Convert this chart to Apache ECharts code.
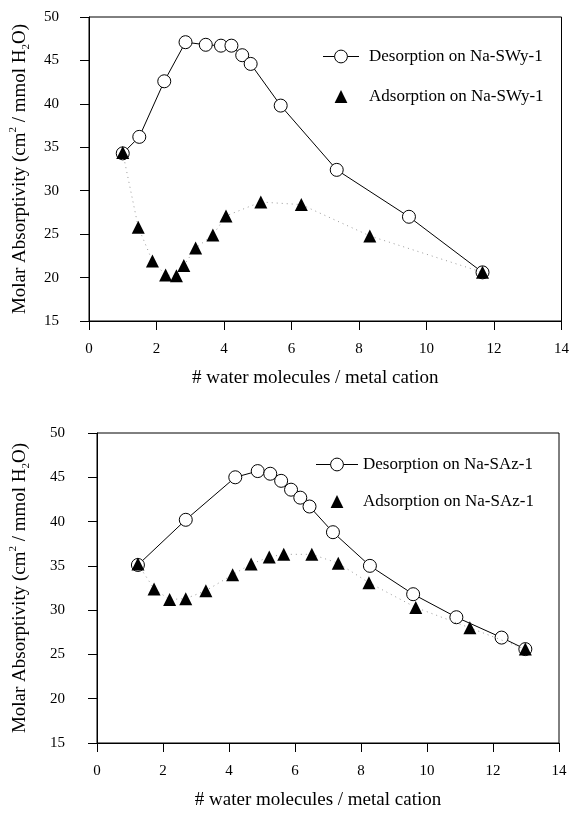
<!DOCTYPE html>
<html lang="en">
<head>
    <meta charset="UTF-8">
    <title>Molar Absorptivity</title>
    <script src="https://cdn.jsdelivr.net/npm/echarts@6/dist/echarts.min.js"></script>
    <style>
        html, body { margin: 0; padding: 0; background: #fff; }
    </style>
</head>
<body>
<div id="chart" style="width: 572px;height: 815px;"></div>
<script type="text/javascript">
    // 上图 Na-SWy-1
    var swyDesX = [1.0, 1.49, 2.23, 2.86, 3.46, 3.91, 4.22, 4.54, 4.79, 5.68, 7.34, 9.48, 11.66]
    var swyDesY = [34.3, 36.2, 42.6, 47.1, 46.8, 46.7, 46.7, 45.6, 44.6, 39.8, 32.4, 27.0, 20.6]
    var swyAdsX = [1.0, 1.46, 1.88, 2.27, 2.59, 2.81, 3.16, 3.67, 4.06, 5.09, 6.29, 8.32, 11.66]
    var swyAdsY = [34.4, 25.8, 21.9, 20.3, 20.2, 21.4, 23.4, 24.9, 27.1, 28.7, 28.4, 24.8, 20.6]

    // 下图 Na-SAz-1
    var sazDesX = [1.24, 2.69, 4.19, 4.87, 5.25, 5.58, 5.88, 6.16, 6.44, 7.15, 8.27, 9.58, 10.89, 12.26, 12.98]
    var sazDesY = [35.1, 40.2, 45.0, 45.7, 45.4, 44.6, 43.6, 42.7, 41.7, 38.8, 35.0, 31.8, 29.2, 26.9, 25.6]
    var sazAdsX = [1.24, 1.73, 2.20, 2.69, 3.30, 4.11, 4.67, 5.22, 5.66, 6.51, 7.31, 8.24, 9.66, 11.30, 12.98]
    var sazAdsY = [35.2, 32.4, 31.2, 31.3, 32.2, 34.0, 35.2, 36.0, 36.3, 36.3, 35.3, 33.1, 30.3, 28.0, 25.6]

    var seriesNames = ['Desorption on Na-SWy-1', 'Adsorption on Na-SWy-1', 'Desorption on Na-SAz-1', 'Adsorption on Na-SAz-1']
    var xTitle = '# water molecules / metal cation'
    var yTitle = 'Molar Absorptivity (cm{sup|2} / mmol H{sub|2}O)'

    var font = 'Liberation Serif'

    function pairs(xs, ys) {
        var out = []
        for (let i = 0; i < xs.length; i++) {
            out.push([xs[i], ys[i]])
        }
        return out
    }

    function xAxisOf(idx, gap) {
        return {
            gridIndex: idx,
            type: 'value',
            min: 0, max: 14, interval: 2,
            name: xTitle,
            nameLocation: 'middle',
            nameGap: gap,
            nameTextStyle: {fontFamily: font, fontSize: 19, color: '#000', padding: [0, 20, 0, 0]},
            axisLine: {show: true, onZero: false, lineStyle: {color: '#000', width: 1}},
            axisTick: {show: true, inside: false, length: 9, lineStyle: {color: '#000'}},
            axisLabel: {fontFamily: font, fontSize: 15, color: '#000', margin: 21},
            splitLine: {show: false}
        }
    }

    function yAxisOf(idx, gap, margin) {
        return {
            gridIndex: idx,
            type: 'value',
            min: 15, max: 50, interval: 5,
            name: yTitle,
            nameLocation: 'middle',
            nameGap: gap,
            nameTextStyle: {
                fontFamily: font, fontSize: 19, color: '#000', lineHeight: 24,
                rich: {
                    sup: {fontFamily: font, fontSize: 11, color: '#000', verticalAlign: 'top'},
                    sub: {fontFamily: font, fontSize: 11, color: '#000', verticalAlign: 'bottom'}
                }
            },
            axisLine: {show: true, onZero: false, lineStyle: {color: '#000', width: 1}},
            axisTick: {show: true, inside: false, length: 9, lineStyle: {color: '#000'}},
            axisLabel: {fontFamily: font, fontSize: 15, color: '#000', margin: margin},
            splitLine: {show: false}
        }
    }

    function desSeries(name, idx, data) {
        return {
            name: name,
            type: 'line',
            xAxisIndex: idx, yAxisIndex: idx,
            data: data,
            symbol: 'circle',
            symbolSize: 13,
            lineStyle: {color: '#000', width: 1},
            itemStyle: {color: '#fff', borderColor: '#000', borderWidth: 1},
            z: 2
        }
    }

    function adsSeries(name, idx, data) {
        return {
            name: name,
            type: 'line',
            xAxisIndex: idx, yAxisIndex: idx,
            data: data,
            symbol: 'triangle',
            symbolSize: 13,
            lineStyle: {color: '#9a9a9a', width: 1, type: [1, 4]},
            itemStyle: {color: '#000', borderColor: '#000', borderWidth: 0},
            z: 3
        }
    }

    var chart = echarts.init(document.getElementById('chart'), null, {renderer: 'canvas'})

    var option = {
        backgroundColor: '#fff',
        animation: false,
        grid: [
            {left: 87, top: 17, width: 476, height: 304, show: true, borderColor: '#000', borderWidth: 1},
            {left: 97, top: 433, width: 462, height: 310, show: true, borderColor: '#000', borderWidth: 1}
        ],
        legend: [
            {
                orient: 'vertical', left: 317, top: 43,
                itemWidth: 36, itemHeight: 16, itemGap: 23,
                textStyle: {fontFamily: font, fontSize: 17, color: '#000', padding: [0, 0, 0, 5]},
                data: [
                    {name: seriesNames[0], itemStyle: {borderWidth: 1}, lineStyle: {width: 1}},
                    {name: seriesNames[1], lineStyle: {opacity: 0}}
                ]
            },
            {
                orient: 'vertical', left: 310, top: 451,
                itemWidth: 42, itemHeight: 16, itemGap: 20,
                textStyle: {fontFamily: font, fontSize: 17, color: '#000'},
                data: [
                    {name: seriesNames[2], itemStyle: {borderWidth: 1}, lineStyle: {width: 1}},
                    {name: seriesNames[3], lineStyle: {opacity: 0}}
                ]
            }
        ],
        xAxis: [xAxisOf(0, 48), xAxisOf(1, 48)],
        yAxis: [yAxisOf(0, 57, 30), yAxisOf(1, 65, 32)],
        series: [
            desSeries(seriesNames[0], 0, pairs(swyDesX, swyDesY)),
            adsSeries(seriesNames[1], 0, pairs(swyAdsX, swyAdsY)),
            desSeries(seriesNames[2], 1, pairs(sazDesX, sazDesY)),
            adsSeries(seriesNames[3], 1, pairs(sazAdsX, sazAdsY))
        ]
    }

    chart.setOption(option)
</script>
</body>
</html>
